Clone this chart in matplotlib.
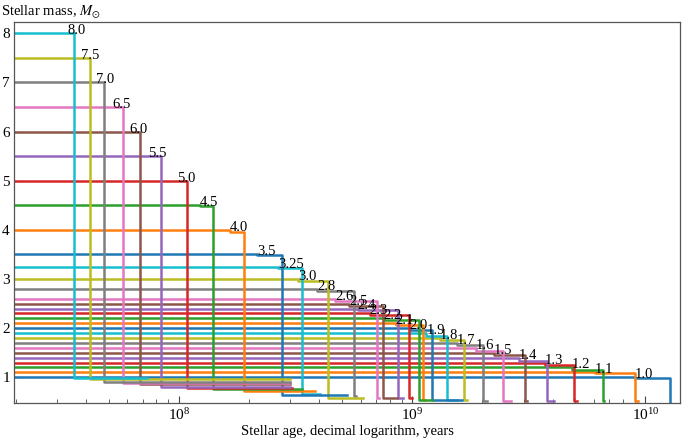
import matplotlib
matplotlib.use("Agg")
import matplotlib.pyplot as plt

plt.rcParams['font.family'] = ['Liberation Serif', 'DejaVu Serif']
plt.rcParams['mathtext.fontset'] = 'stix'
plt.rcParams['font.size'] = 10

# initial stellar masses (solar units), ordered from low to high
masses = [1.0, 1.1, 1.2, 1.3, 1.4, 1.5, 1.6, 1.7, 1.8, 1.9, 2.0, 2.1, 2.2, 2.3, 2.4,
          2.5, 2.6, 2.8, 3.0, 3.25, 3.5, 4.0, 4.5, 5.0, 5.5, 6.0, 6.5, 7.0, 7.5, 8.0]
labels = ['1.0', '1.1', '1.2', '1.3', '1.4', '1.5', '1.6', '1.7', '1.8', '1.9', '2.0',
          '2.1', '2.2', '2.3', '2.4', '2.5', '2.6', '2.8', '3.0', '3.25', '3.5', '4.0',
          '4.5', '5.0', '5.5', '6.0', '6.5', '7.0', '7.5', '8.0']
# age where mass first drops a little (labels sit here), years
label_age = [8.98e9, 6.05e9, 4.82e9, 3.69e9, 2.86e9, 2.23e9, 1.87e9, 1.55e9, 1.31e9, 1.15e9,
             9.75e8, 8.50e8, 7.55e8, 6.58e8, 5.84e8, 5.35e8, 4.66e8, 3.90e8, 3.24e8, 2.65e8,
             2.16e8, 1.65e8, 1.23e8, 9.8e7, 7.37e7, 6.11e7, 5.17e7, 4.41e7, 3.80e7, 3.31e7]
# small mass loss before the final drop
loss = [0.01, 0.02, 0.05, 0.05, 0.07, 0.05, 0.07, 0.035, 0.05, 0.05,
        0.04, 0.04, 0.04, 0.04, 0.04, 0.04, 0.04, 0.04, 0.04, 0.03,
        0.02, 0.035, 0.01, 0.0, 0.0, 0.0, 0.0, 0.0, 0.0, 0.0]
# age of the final drop to the remnant, years
end_age = [1.27e10, 8.98e9, 6.55e9, 4.92e9, 3.80e9, 3.03e9, 2.44e9, 2.01e9, 1.66e9, 1.41e9,
           1.22e9, 1.11e9, 1.07e9, 9.66e8, 8.67e8, 7.48e8, 7.05e8, 5.61e8, 4.35e8, 3.36e8,
           2.76e8, 1.90e8, 1.40e8, 1.08e8, 8.38e7, 6.81e7, 5.75e7, 4.78e7, 4.16e7, 3.55e7]
# remnant masses
final_mass = [0.50, 0.52, 0.52, 0.52, 0.52, 0.52, 0.52, 0.52, 0.54, 0.54,
              0.54, 0.54, 0.54, 0.58, 0.58, 0.58, 0.58, 0.62, 0.58, 0.66,
              0.64, 0.72, 0.76, 0.78, 0.81, 0.86, 0.88, 0.90, 0.97, 0.99]
# last age of each track
tail_age = [1.28e10, 9.25e9, 6.67e9, 5.11e9, 4.07e9, 3.09e9, 2.64e9, 2.10e9, 1.72e9, 1.55e9,
            1.63e9, 1.13e9, 1.22e9, 9.95e8, 9.11e8, 8.59e8, 7.19e8, 5.73e8, 6.14e8, 4.02e8,
            5.24e8, 3.82e8, 3.36e8, 3.05e8, 2.99e8, 2.99e8, 2.99e8, 2.99e8, 2.99e8, 7.30e7]

t_start = 1.0e7

fig = plt.figure(figsize=(6.82, 4.43), dpi=100)
ax = fig.add_axes([0.0205, 0.0896, 0.977, 0.8614])

for i, m in enumerate(masses):
    m2 = m - loss[i]
    t = [t_start, label_age[i], label_age[i], end_age[i], end_age[i], tail_age[i]]
    y = [m, m, m2, m2, final_mass[i], final_mass[i]]
    ax.plot(t, y, color='C%d' % (i % 10), lw=1.8, solid_joinstyle='round')
    ax.text(label_age[i], m - 0.02, labels[i], ha='left', va='baseline', fontsize=10.5)

ax.set_xscale('log')
ax.set_xlim(1.96e7, 1.41e10)
ax.set_ylim(0.471, 8.236)
ax.set_yticks(range(1, 9))

for s in ax.spines.values():
    s.set_color('#555555')
    s.set_linewidth(0.9)
ax.tick_params(axis='both', which='both', direction='in', colors='#444444', labelcolor='black')
ax.tick_params(axis='y', which='major', length=5, pad=3, labelsize=11)
ax.tick_params(axis='x', which='major', length=5, pad=3, labelsize=11)
ax.tick_params(axis='x', which='minor', length=3)

ax.set_xlabel('Stellar age, decimal logarithm, years', fontsize=10.5, labelpad=1)
fig.text(0.002, 1 - 16 / 443, r'Stellar mass, $M_{\odot}$', fontsize=10.5, va='baseline')

fig.savefig('out.png', dpi=100)
